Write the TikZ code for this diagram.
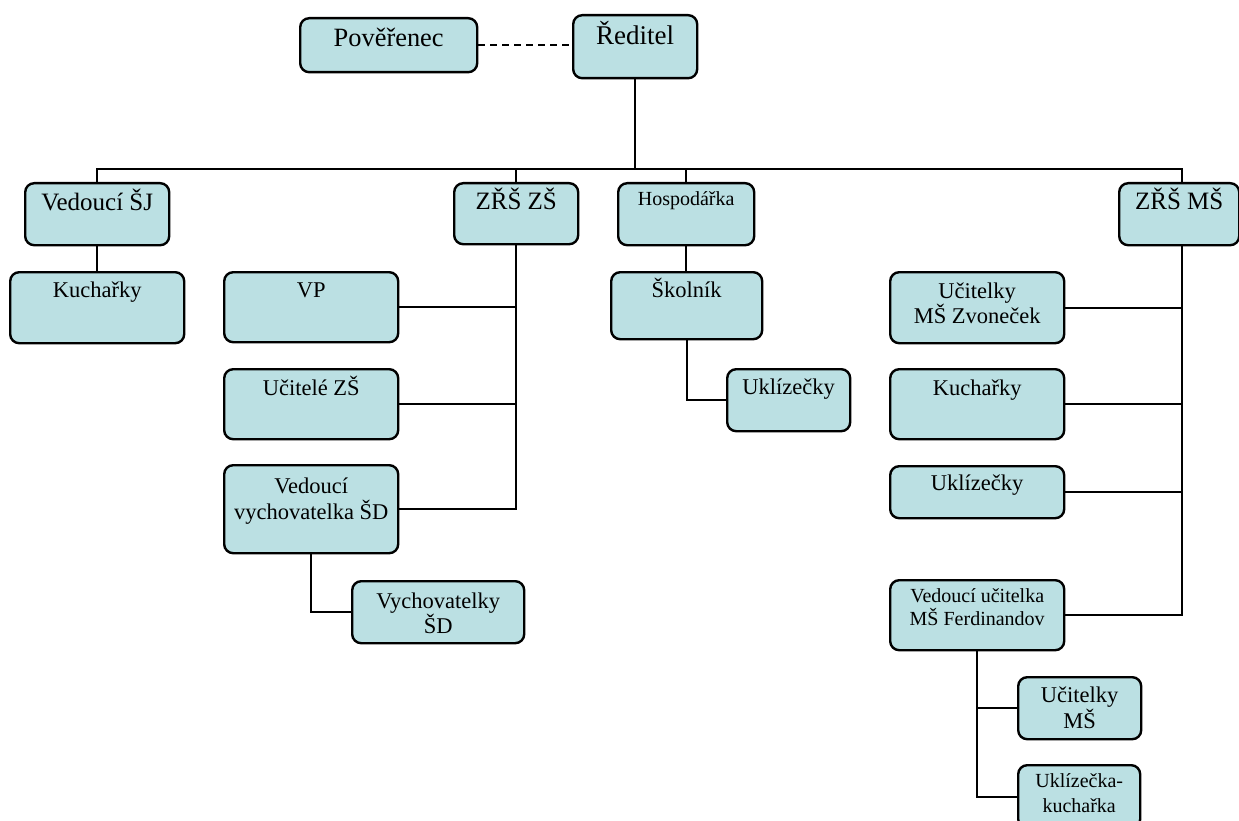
\documentclass[tikz,border=0pt]{standalone}
\usepackage{fontspec}
\setmainfont{Liberation Serif}
\usepackage{tikz}
\definecolor{boxfill}{RGB}{187,224,227}

% box: name, top left corner, width, height, drop to last baseline, font size, skip, text
\newcommand\orgbox[8]{%
  \node[box, minimum width=#3, minimum height=#4] (#1) at (#2) {};
  \node[anchor=base, align=center, font=\fontsize{#6}{#7}\selectfont]
    at ([yshift=-#5]#1.north) {#8};}

\begin{document}
\begin{tikzpicture}[x=1pt, y=-1pt,
                    box/.style={draw, line width=2.4pt, rounded corners=9pt,
                                fill=boxfill, anchor=north west, inner sep=0pt},
                    link/.style={line width=2pt}]
  \useasboundingbox (0,0) rectangle (1239,821);
  % top
  \orgbox{poverenec}{299,17}{177}{54}{30}{26.4}{29}{Pověřenec}
  \orgbox{reditel}{572,14}{124}{63}{31}{27}{30}{Ředitel}
  % second row
  \orgbox{vedsj}{24,182}{144}{62}{29}{25}{28}{Vedoucí ŠJ}
  \orgbox{zrszs}{453,182}{124}{61}{28}{25}{28}{ZŘŠ ZŠ}
  \orgbox{hosp}{617,182}{136}{62}{24}{20}{23}{Hospodářka}
  \orgbox{zrsms}{1118,182}{120}{62}{28}{25}{28}{ZŘŠ MŠ}
  % school canteen
  \orgbox{kuchsj}{9,271}{174}{71}{26}{22.5}{25}{Kuchařky}
  % primary school
  \orgbox{vp}{223,271}{174}{70}{26}{22.5}{25}{VP}
  \orgbox{ucitele}{223,368}{174}{70}{27}{22.5}{25}{Učitelé ZŠ}
  \orgbox{vedvych}{223,464}{174}{88}{55}{22.5}{26}{Vedoucí\\vychovatelka ŠD}
  \orgbox{vychov}{351,580}{172}{62}{53}{22.5}{25}{Vychovatelky\\ŠD}
  % caretaker
  \orgbox{skolnik}{610,271}{151}{67}{26}{22.5}{25}{Školník}
  \orgbox{uklzs}{726,368}{123}{62}{26}{22.5}{25}{Uklízečky}
  % nursery school
  \orgbox{ucitzv}{889,271}{174}{71}{52}{22.5}{25}{Učitelky\\MŠ Zvoneček}
  \orgbox{kuchms}{889,368}{174}{70}{27}{22.5}{25}{Kuchařky}
  \orgbox{uklms}{889,465}{174}{52}{25}{22.5}{25}{Uklízečky}
  \orgbox{vedfer}{889,579}{174}{70}{46}{20}{23}{Vedoucí učitelka\\MŠ Ferdinandov}
  \orgbox{ucitfer}{1017,676}{123}{62}{52}{22.5}{26}{Učitelky\\MŠ}
  \orgbox{uklfer}{1017,764}{122}{63}{48}{20}{25}{Uklízečka-\\kuchařka}

  \coordinate (bus) at (634,169);
  \coordinate (msbus) at (1182,169);

  \draw[link, dash pattern=on 7pt off 5pt] (poverenec.east) -- (poverenec.east -| reditel.west);
  \draw[link] (reditel.south) -- (reditel.south |- bus);
  \draw[link] (vedsj.north) -- (vedsj.north |- bus) -- (msbus) -- (msbus |- zrsms.north);
  \draw[link] (zrszs.north) -- (zrszs.north |- bus);
  \draw[link] (hosp.north) -- (hosp.north |- bus);
  \draw[link] (vedsj.south) -- (kuchsj.north -| vedsj.south);
  % ZS branch
  \draw[link] (zrszs.south) |- (vedvych.east);
  \draw[link] (vp.east) -- (vp.east -| zrszs.south);
  \draw[link] (ucitele.east) -- (ucitele.east -| zrszs.south);
  \draw[link] (vedvych.south) |- (vychov.west);
  % caretaker branch
  \draw[link] (hosp.south) -- (skolnik.north -| hosp.south);
  \draw[link] (skolnik.south) |- (uklzs.west);
  % MS branch
  \draw[link] (zrsms.south -| msbus) |- (vedfer.east);
  \draw[link] (ucitzv.east) -- (ucitzv.east -| msbus);
  \draw[link] (kuchms.east) -- (kuchms.east -| msbus);
  \draw[link] (uklms.east) -- (uklms.east -| msbus);
  \draw[link] (vedfer.south) |- (ucitfer.west);
  \draw[link] (vedfer.south) |- (uklfer.west);
\end{tikzpicture}
\end{document}
